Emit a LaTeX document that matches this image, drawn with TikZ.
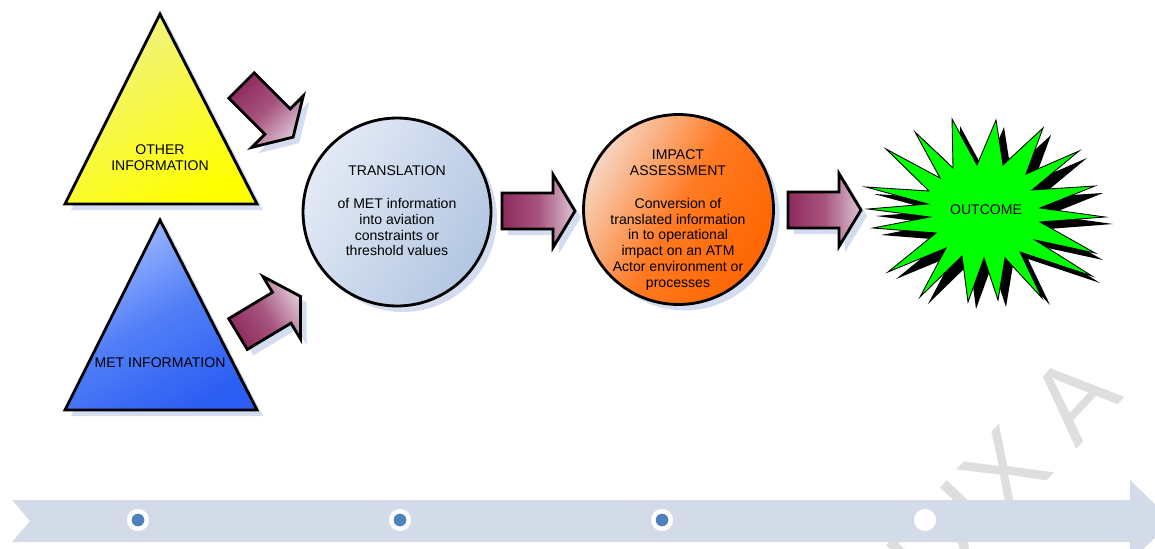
\documentclass[tikz,border=0pt]{standalone}
\usepackage{fontspec}
\setmainfont{Liberation Sans}
\usepackage{tikz}
\usetikzlibrary{calc,shadows}

\definecolor{shadowblue}{HTML}{D3DDEF}
\definecolor{bandblue}{HTML}{D3DAE8}
\definecolor{dotblue}{HTML}{4F81BD}
\definecolor{arrowdark}{HTML}{8E2B5D}
\definecolor{arrowmid}{HTML}{A7557F}
\definecolor{arrowlight}{HTML}{DDC3D4}
\definecolor{yellowtop}{HTML}{F0F285}
\definecolor{bluetop}{HTML}{A4BCFF}
\definecolor{bluemid}{HTML}{527FF7}
\definecolor{bluebot}{HTML}{2C5EF3}
\definecolor{transtop}{HTML}{E3EAF5}
\definecolor{transbot}{HTML}{B3C6E2}
\definecolor{impacttop}{HTML}{F6D5C2}
\definecolor{impactmid}{HTML}{FF7A22}
\definecolor{impactbot}{HTML}{FF6600}
\definecolor{wmgrey}{HTML}{DEDEDE}

\newcommand\fatarrow[3]{%
  \draw[blockarrow,shading angle=#3] (#1) ++(#2+90:18) -- ++(#2:51) -- ++(#2+90:18.5)
    -- ++(#2-58.9:42.6) -- ++(#2-121.1:42.6) -- ++(#2+90:18.5) -- ++(#2+180:51) -- cycle;
}

\begin{document}
\begin{tikzpicture}[x=0.02cm,y=-0.02cm,
  lbl/.style={font=\fontsize{8}{9}\selectfont,align=center,inner sep=0pt},
  shadowed/.style={drop shadow={shadow xshift=0.12cm,shadow yshift=-0.12cm,fill=shadowblue,opacity=1}},
  blockarrow/.style={draw,line width=1.6pt,shadowed,top color=arrowdark,bottom color=arrowlight,middle color=arrowmid},
  dot/.style={circle,draw=white,line width=0.09cm,fill=dotblue,minimum size=0.35cm,inner sep=0pt}]
\useasboundingbox (0,0) rectangle (1155,548);
\clip (0,0) rectangle (1155,548);

\node[rotate=47,anchor=base east,text=wmgrey,font=\fontsize{61}{61}\selectfont,inner sep=0pt] (wmark) at (1126,397) {APPENDIX A};

\fill[bandblue] (12,500) -- (1130,500) -- (1130,480) -- (1172,521) -- (1130,562) -- (1130,542) -- (12,542) -- (30,521) -- cycle;
\node[dot] (d1) at (138,520) {};
\node[dot] (d2) at (400,520) {};
\node[dot] (d3) at (662,520) {};
\node[dot,fill=white] (d4) at (925,520) {};

\draw[line width=1.6pt,shadowed,top color=yellowtop,bottom color=yellow,shading angle=30] (160,14) -- (257,204) -- (65,204) -- cycle;
\draw[line width=1.6pt,shadowed,top color=bluetop,bottom color=bluebot,middle color=bluemid,shading angle=30] (160,220) -- (257,410) -- (65,410) -- cycle;
\node[lbl] (other) at (160,158) {OTHER\\INFORMATION};
\node[lbl] (met) at (160,363) {MET INFORMATION};

\coordinate (a1) at (241.5,85.5);
\coordinate (a2) at (238,334);
\coordinate (a3) at (502,211);
\coordinate (a4) at (788,210);
\fatarrow{a1}{45}{45}
\fatarrow{a2}{-31}{121}
\fatarrow{a3}{0}{90}
\fatarrow{a4}{0}{90}

\node[circle,draw,line width=1.6pt,minimum size=3.76cm,shadowed,top color=transtop,bottom color=transbot,shading angle=60] (trans) at (397,212) {};
\node[circle,draw,line width=1.6pt,minimum size=3.8cm,shadowed,top color=impacttop,bottom color=impactbot,middle color=impactmid,shading angle=60] (impact) at (678.5,209.5) {};
\node[lbl] (transtext) at (397,211) {TRANSLATION\\[9.7pt]of MET information\\into aviation\\constraints or\\threshold values};
\node[lbl] (impacttext) at (678,220) {IMPACT\\ASSESSMENT\\[9.7pt]Conversion of\\translated information\\in to operational\\impact on an ATM\\Actor environment or\\processes};

\draw[fill=green,line width=0.5pt,drop shadow={shadow xshift=0.16cm,shadow yshift=-0.14cm,fill=black,opacity=1}]
  (952,119) -- (977,165) -- (996,120) -- (1003,165) -- (1043,128) -- (1026,174) -- (1079,151) -- (1032,190)
  -- (1095,186) -- (1040,208) -- (1105,217) -- (1040,222) -- (1095,253) -- (1035,240) -- (1092,276) -- (1020,252)
  -- (1042,298) -- (1005,258) -- (998,300) -- (984,258) -- (968,302) -- (962,256) -- (920,297) -- (946,248)
  -- (888,272) -- (936,233) -- (873,228) -- (930,217) -- (868,209) -- (928,204) -- (866,187) -- (929,191)
  -- (886,149) -- (940,178) -- (915,132) -- (953,168) -- cycle;
\node[lbl] (outcome) at (986,209.5) {OUTCOME};
\end{tikzpicture}
\end{document}
